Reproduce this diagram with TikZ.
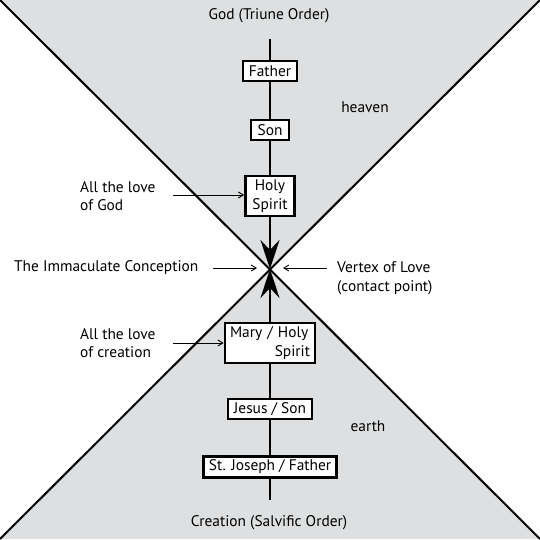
\documentclass[tikz,border=0pt]{standalone}
\usepackage{fontspec}
\setmainfont{PT Sans}
\usetikzlibrary{arrows.meta}
\definecolor{bggray}{RGB}{222,223,224}
\tikzset{
  lbl/.style={font=\fontsize{15.4}{18.5}\selectfont, inner sep=0pt},
  box/.style={draw=black, line width=2.6pt, fill=white, font=\fontsize{15.4}{18.5}\selectfont, inner sep=0pt},
  stem/.style={line width=2.8pt},
  ptr/.style={line width=0.9pt, -{Straight Barb[length=5pt,width=6pt]}},
  bigtip/.style={line width=2.8pt, -{Stealth[length=29pt,width=19pt,inset=10pt]}},
}
\begin{document}
\begin{tikzpicture}[x=1pt,y=-1pt]
\useasboundingbox (0,0) rectangle (540,539);
\fill[white] (0,0) rectangle (540,539);
\coordinate (tl) at (0,0);
\coordinate (tr) at (540,0);
\coordinate (bl) at (0,539);
\coordinate (br) at (540,539);
\coordinate (v) at (270,269);
\fill[bggray] (tl) -- (tr) -- (v) -- cycle;
\fill[bggray] (bl) -- (br) -- (v) -- cycle;
\draw[line width=2pt] (tl) -- (br);
\draw[line width=2pt] (tr) -- (bl);

\coordinate (top) at (270,39);
\coordinate (bot) at (270,500);

\node[lbl] (god) at (269,16) {God (Triune Order)};
\node[lbl] (creation) at (269,523) {Creation (Salvific Order)};
\node[lbl] (heaven) at (365,107) {heaven};
\node[lbl] (earth) at (368,426) {earth};

\node[box, minimum width=54pt, minimum height=20pt] (father) at (270,71) {Father};
\node[box, minimum width=38pt, minimum height=20pt] (son) at (270,130) {Son};
\node[box, minimum width=49pt, minimum height=40pt, align=center] (holy) at (270,196) {Holy\\Spirit};
\node[box, minimum width=90pt, minimum height=40pt, text width=80pt, align=left] (mary) at (270,343) {Mary / Holy\\\hspace*{0pt plus 1fill}Spirit};
\node[box, minimum width=84pt, minimum height=20pt] (jesus) at (270,409) {Jesus / Son};
\node[box, minimum width=133pt, minimum height=21pt] (joseph) at (270,467) {St. Joseph / Father};

\draw[stem] (top) -- (father.north);
\draw[stem] (father.south) -- (son.north);
\draw[stem] (son.south) -- (holy.north);
\draw[bigtip] (holy.south) -- (v);
\draw[bigtip] (mary.north) -- (v);
\draw[stem] (mary.south) -- (jesus.north);
\draw[stem] (jesus.south) -- (joseph.north);
\draw[stem] (joseph.south) -- (bot);

\node[lbl, anchor=west, align=left] (lovegod) at (80,196) {All the love\\of God};
\node[lbl, anchor=west, align=left] (lovecre) at (80,343) {All the love\\of creation};
\node[lbl, anchor=west] (immac) at (14,268) {The Immaculate Conception};
\node[lbl, anchor=west, align=left] (vertex) at (337,278) {Vertex of Love\\(contact point)};

\coordinate (a1) at (173,195);
\coordinate (a2) at (173,343);
\coordinate (a3) at (213,268);
\coordinate (a4) at (327,268);
\coordinate (v3) at (257,268);
\coordinate (v4) at (283,268);
\draw[ptr] (a1) -- (holy.west |- a1);
\draw[ptr] (a2) -- (mary.west |- a2);
\draw[ptr] (a3) -- (v3);
\draw[ptr] (a4) -- (v4);
\end{tikzpicture}
\end{document}
